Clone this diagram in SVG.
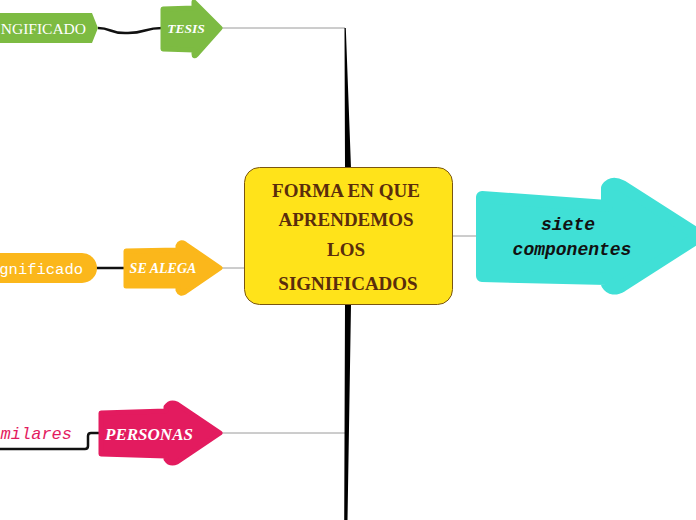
<svg xmlns="http://www.w3.org/2000/svg" width="696" height="520" viewBox="0 0 696 520">
<style>
.lbl{font-family:"Liberation Serif","DejaVu Serif",serif;font-weight:bold;font-style:italic;fill:#ffffff}
.mono{font-family:"Liberation Mono","DejaVu Sans Mono",monospace}
.ctr{font-family:"Liberation Serif","DejaVu Serif",serif;font-weight:bold;fill:#5a2d0c;font-size:19px}
.gray{stroke:#9a9a9a;stroke-width:1;fill:none}
.blk{stroke:#111;stroke-width:2.5;fill:none}
</style>
<rect width="696" height="520" fill="#ffffff"/>
<g id="connectors">
  <path class="gray" d="M222,28 H345"/>
  <path class="gray" d="M222,433 H345"/>
  <path class="gray" d="M222,268 H244"/>
  <path class="gray" d="M453,236 H477"/>
  <path d="M344.5,28 L345.8,28 L351,168 L351,305 L347.5,520 L344.2,520 L345,305 L345,168 Z" fill="#000"/>
  <path class="blk" d="M98,28 C112,28 110,34 128,33 C146,33 144,28 162,28"/>
  <path class="blk" d="M96,268 H124"/>
  <path class="blk" d="M0,449 H85 Q88,449 88,446 V436 Q88,433 91,433 H100"/>
</g>
<g id="node-center">
  <rect x="244.5" y="167.5" width="208" height="137" rx="15" fill="#ffe31a" stroke="#7a5510" stroke-width="1"/>
  <text class="ctr" text-anchor="middle" x="346" y="197">FORMA EN QUE</text>
  <text class="ctr" text-anchor="middle" x="346" y="226">APRENDEMOS</text>
  <text class="ctr" text-anchor="middle" x="346" y="256">LOS</text>
  <text class="ctr" text-anchor="middle" x="348" y="290">SIGNIFICADOS</text>
</g>
<g id="node-siete">
  <path d="M482,197 L607,206 L607,188 Q612,181 622,186 L700,236 L622,286 Q612,292 607,284 L607,279 L482,276 Z" fill="#40e0d6" stroke="#40e0d6" stroke-width="12" stroke-linejoin="round"/>
  <text class="mono" font-weight="bold" font-style="italic" font-size="18" fill="#111" text-anchor="middle" x="568" y="230">siete</text>
  <text class="mono" font-weight="bold" font-style="italic" font-size="18" fill="#111" text-anchor="middle" x="572" y="255">componentes</text>
</g>
<g id="node-tesis">
  <path d="M163,9 L194,8 L194,2 L220,28 L196,55 Q194,57 194,54 L194,50 L163,49 Z" fill="#7dbb42" stroke="#7dbb42" stroke-width="5" stroke-linejoin="round"/>
  <text class="lbl" font-size="13.5" x="186" y="33" text-anchor="middle">TESIS</text>
</g>
<g id="node-significado-top">
  <path d="M-5,13 L92,13 L98,28 L92,43 L-5,43 Z" fill="#7dbb42"/>
  <text font-family="Liberation Serif,DejaVu Serif,serif" font-size="15.5" fill="#ffffff" text-anchor="end" x="86" y="34">NGIFICADO</text>
</g>
<g id="node-se-alega">
  <path d="M126,251 L178,250 L178,246 Q180,241 185,244 L220,268 L185,292 Q180,295 178,290 L178,286 L126,286 Z" fill="#fbb71b" stroke="#fbb71b" stroke-width="5" stroke-linejoin="round"/>
  <text class="lbl" font-size="14" x="163" y="273" text-anchor="middle">SE ALEGA</text>
</g>
<g id="node-significado-mid">
  <rect x="-20" y="253" width="117" height="30" rx="15" fill="#fbb71b"/>
  <text class="mono" font-size="15.5" fill="#ffffff" text-anchor="end" x="83" y="274">gnificado</text>
</g>
<g id="node-personas">
  <path d="M101,413 L166,411 L166,407 Q170,401 177,404 L220,433 L177,462 Q170,465 166,459 L166,456 L101,454 Z" fill="#e31b5f" stroke="#e31b5f" stroke-width="5" stroke-linejoin="round"/>
  <text class="lbl" font-size="17" x="149" y="440" text-anchor="middle">PERSONAS</text>
</g>
<g id="node-similares">
  <text class="mono" font-style="italic" font-size="17" fill="#e31b5f" text-anchor="end" x="72" y="439">milares</text>
</g>
</svg>
